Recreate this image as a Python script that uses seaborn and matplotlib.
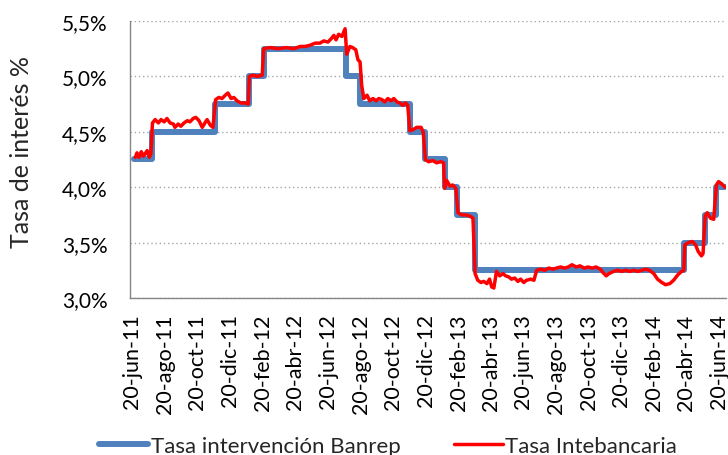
import matplotlib
matplotlib.use("Agg")
import matplotlib.pyplot as plt
import matplotlib.dates as mdates
from matplotlib.ticker import FuncFormatter, FixedLocator
import pandas as pd
import seaborn as sns

# Tasa de intervención del Banco de la República (cambios de nivel)
banrep_fechas = ["2011-06-24", "2011-07-28", "2011-11-22", "2012-01-24", "2012-02-21",
                 "2012-07-23", "2012-08-19", "2012-11-20", "2012-12-18", "2013-01-24",
                 "2013-02-16", "2013-03-21", "2014-04-17", "2014-05-25", "2014-06-16",
                 "2014-07-03"]
banrep_tasas = [4.25, 4.50, 4.75, 5.00, 5.25,
                5.00, 4.75, 4.50, 4.25, 4.00,
                3.75, 3.25, 3.50, 3.75, 4.00,
                4.00]

# Tasa interbancaria (TIB)
tib_fechas = [
    "2011-06-26", "2011-06-29", "2011-07-03", "2011-07-07", "2011-07-11", "2011-07-14",
    "2011-07-18", "2011-07-22", "2011-07-25", "2011-07-28", "2011-08-02", "2011-08-08",
    "2011-08-13", "2011-08-19", "2011-08-24", "2011-08-30", "2011-09-05", "2011-09-08",
    "2011-09-14", "2011-09-19", "2011-09-25", "2011-10-01", "2011-10-06", "2011-10-12",
    "2011-10-17", "2011-10-23", "2011-10-29", "2011-11-03", "2011-11-07", "2011-11-13",
    "2011-11-18", "2011-11-23", "2011-11-29", "2011-12-05", "2011-12-11", "2011-12-16",
    "2011-12-22", "2011-12-27", "2012-01-02", "2012-01-09", "2012-01-17", "2012-01-23",
    "2012-01-25", "2012-02-01", "2012-02-08", "2012-02-18", "2012-02-21", "2012-03-04",
    "2012-03-19", "2012-04-03", "2012-04-17", "2012-04-29", "2012-05-08", "2012-05-17",
    "2012-05-27", "2012-06-05", "2012-06-12", "2012-06-20", "2012-06-26", "2012-07-01",
    "2012-07-05", "2012-07-10", "2012-07-16", "2012-07-22", "2012-07-25", "2012-07-31",
    "2012-08-05", "2012-08-11", "2012-08-15", "2012-08-19", "2012-08-22", "2012-08-26",
    "2012-09-01", "2012-09-06", "2012-09-12", "2012-09-18", "2012-09-23", "2012-09-29",
    "2012-10-04", "2012-10-10", "2012-10-16", "2012-10-21", "2012-10-27", "2012-11-01",
    "2012-11-07", "2012-11-12", "2012-11-16", "2012-11-20", "2012-11-26", "2012-12-03",
    "2012-12-11", "2012-12-15", "2012-12-19", "2012-12-25", "2013-01-02", "2013-01-09",
    "2013-01-17", "2013-01-22", "2013-01-24", "2013-01-28", "2013-02-03", "2013-02-08",
    "2013-02-14", "2013-02-18", "2013-02-25", "2013-03-05", "2013-03-12", "2013-03-18",
    "2013-03-22", "2013-03-27", "2013-04-02", "2013-04-07", "2013-04-13", "2013-04-18",
    "2013-04-22", "2013-04-26", "2013-05-01", "2013-05-07", "2013-05-13", "2013-05-18",
    "2013-05-24", "2013-05-29", "2013-06-04", "2013-06-10", "2013-06-15", "2013-06-21",
    "2013-06-26", "2013-07-04", "2013-07-10", "2013-07-15", "2013-07-23", "2013-07-30",
    "2013-08-07", "2013-08-14", "2013-08-21", "2013-08-29", "2013-09-05", "2013-09-12",
    "2013-09-19", "2013-09-27", "2013-10-04", "2013-10-12", "2013-10-19", "2013-10-27",
    "2013-11-03", "2013-11-11", "2013-11-16", "2013-11-22", "2013-11-27", "2013-12-06",
    "2013-12-13", "2013-12-21", "2013-12-28", "2014-01-05", "2014-01-12", "2014-01-20",
    "2014-01-27", "2014-02-04", "2014-02-11", "2014-02-19", "2014-02-26", "2014-03-06",
    "2014-03-13", "2014-03-21", "2014-03-28", "2014-04-05", "2014-04-12", "2014-04-16",
    "2014-04-18", "2014-04-25", "2014-05-02", "2014-05-08", "2014-05-13", "2014-05-19",
    "2014-05-22", "2014-05-26", "2014-05-30", "2014-06-05", "2014-06-11", "2014-06-16",
    "2014-06-20", "2014-06-26", "2014-07-02",
]
tib_tasas = [
    4.27, 4.31, 4.27, 4.32, 4.28, 4.30,
    4.33, 4.27, 4.30, 4.58, 4.61, 4.58,
    4.61, 4.59, 4.62, 4.58, 4.57, 4.54,
    4.57, 4.55, 4.58, 4.60, 4.59, 4.62,
    4.63, 4.60, 4.54, 4.58, 4.61, 4.56,
    4.54, 4.79, 4.81, 4.80, 4.83, 4.85,
    4.80, 4.81, 4.78, 4.76, 4.76, 4.75,
    5.00, 5.01, 5.00, 5.01, 5.25, 5.26,
    5.25, 5.26, 5.25, 5.27, 5.27, 5.28,
    5.30, 5.30, 5.32, 5.31, 5.34, 5.37,
    5.33, 5.38, 5.36, 5.43, 5.20, 5.27,
    5.26, 5.24, 5.15, 5.13, 4.92, 4.80,
    4.83, 4.78, 4.80, 4.78, 4.80, 4.79,
    4.77, 4.80, 4.78, 4.80, 4.77, 4.76,
    4.74, 4.76, 4.74, 4.51, 4.52, 4.54,
    4.54, 4.50, 4.25, 4.23, 4.24, 4.22,
    4.23, 4.22, 3.99, 4.06, 4.01, 4.02,
    3.99, 3.77, 3.75, 3.75, 3.74, 3.72,
    3.22, 3.16, 3.14, 3.15, 3.13, 3.17,
    3.10, 3.09, 3.24, 3.20, 3.22, 3.20,
    3.19, 3.17, 3.18, 3.15, 3.17, 3.14,
    3.16, 3.17, 3.16, 3.25, 3.26, 3.25,
    3.27, 3.26, 3.27, 3.28, 3.27, 3.28,
    3.30, 3.28, 3.29, 3.27, 3.28, 3.27,
    3.28, 3.26, 3.23, 3.20, 3.22, 3.24,
    3.25, 3.24, 3.25, 3.24, 3.25, 3.24,
    3.25, 3.26, 3.25, 3.22, 3.17, 3.14,
    3.12, 3.13, 3.16, 3.21, 3.24, 3.25,
    3.48, 3.50, 3.51, 3.48, 3.42, 3.38,
    3.40, 3.74, 3.77, 3.72, 3.71, 4.02,
    4.05, 4.03, 4.00,
]

# Etiquetas del eje X (cada dos meses)
eje_fechas = ["2011-06-20", "2011-08-20", "2011-10-20", "2011-12-20", "2012-02-20",
              "2012-04-20", "2012-06-20", "2012-08-20", "2012-10-20", "2012-12-20",
              "2013-02-20", "2013-04-20", "2013-06-20", "2013-08-20", "2013-10-20",
              "2013-12-20", "2014-02-20", "2014-04-20", "2014-06-20"]
eje_etiquetas = ["20-jun-11", "20-ago-11", "20-oct-11", "20-dic-11", "20-feb-12",
                 "20-abr-12", "20-jun-12", "20-ago-12", "20-oct-12", "20-dic-12",
                 "20-feb-13", "20-abr-13", "20-jun-13", "20-ago-13", "20-oct-13",
                 "20-dic-13", "20-feb-14", "20-abr-14", "20-jun-14"]

sns.set_theme(style="white")
plt.rcParams["font.family"] = ["Lato", "DejaVu Sans"]

banrep = pd.DataFrame({"fecha": pd.to_datetime(banrep_fechas), "tasa": banrep_tasas})
tib = pd.DataFrame({"fecha": pd.to_datetime(tib_fechas), "tasa": tib_tasas})

fig = plt.figure(figsize=(7.28, 4.56), dpi=100)
ax = fig.add_axes([0.1786, 0.3443, 0.8187, 0.6075])

sns.lineplot(data=banrep, x="fecha", y="tasa", ax=ax, color="#4F81BD", linewidth=4.3,
             drawstyle="steps-post", label="Tasa intervención Banrep")
sns.lineplot(data=tib, x="fecha", y="tasa", ax=ax, color="#FF0000", linewidth=2.5,
             label="Tasa Intebancaria")

ax.set_ylim(3.0, 5.5)
ax.set_yticks([3.0, 3.5, 4.0, 4.5, 5.0, 5.5])
ax.yaxis.set_major_formatter(FuncFormatter(lambda v, _: f"{v:.1f}%".replace(".", ",")))
ax.set_xlim(pd.Timestamp("2011-06-16"), pd.Timestamp("2014-07-04"))
ax.xaxis.set_major_locator(FixedLocator(mdates.date2num(pd.to_datetime(eje_fechas))))
ax.set_xticklabels(eje_etiquetas, rotation=90, ha="center", va="top")

ax.grid(axis="y", linestyle=(0, (1, 2)), color="#A6A6A6", linewidth=1.0)
ax.set_axisbelow(True)
for side in ("top", "right"):
    ax.spines[side].set_visible(False)
for side in ("left", "bottom"):
    ax.spines[side].set_color("#868686")
    ax.spines[side].set_linewidth(1.0)
ax.tick_params(axis="y", length=0, labelsize=15, colors="#000000", pad=16)
ax.tick_params(axis="x", length=0, labelsize=15.5, colors="#000000", pad=11)

ax.set_xlabel("")
ax.set_ylabel("Tasa de interés %", fontsize=18)
ax.yaxis.set_label_coords(-0.163, 0.53)

ax.legend(loc="center", bbox_to_anchor=(0.533, 0.020), bbox_transform=fig.transFigure,
          ncol=2, frameon=False, fontsize=16, handlelength=2.2, handletextpad=0.12,
          columnspacing=2.4)

fig.savefig("out.png", dpi=100)
